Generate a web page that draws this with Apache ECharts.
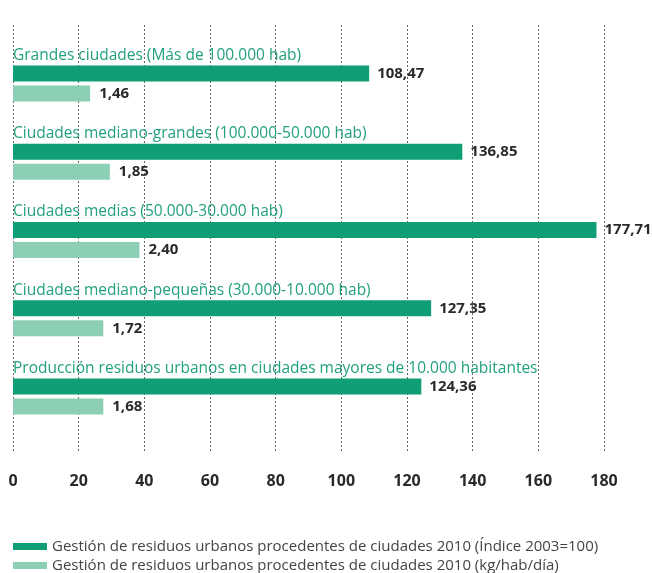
<!DOCTYPE html>
<html>
<head>
<meta charset="utf-8">
<script src="https://cdn.jsdelivr.net/npm/echarts@6/dist/echarts.min.js"></script>
<style>html,body{margin:0;padding:0;background:#fff;}#c{width:652px;height:573px;}</style>
</head>
<body>
<div id="c"></div>
<script>
const categories = [
  'Grandes ciudades (Más de 100.000 hab)',
  'Ciudades mediano-grandes (100.000-50.000 hab)',
  'Ciudades medias (50.000-30.000 hab)',
  'Ciudades mediano-pequeñas (30.000-10.000 hab)',
  'Producción residuos urbanos en ciudades mayores de 10.000 habitantes'
];
const indexValues = [108.47, 136.85, 177.71, 127.35, 124.36];
const kgValues = [1.46, 1.85, 2.40, 1.72, 1.68];
// bar lengths of the light bars (on the 0-180 axis)
const kgBarLengths = [23.5, 29.5, 38.5, 27.5, 27.5];
const xTicks = [0, 20, 40, 60, 80, 100, 120, 140, 160, 180];
const seriesNames = [
  'Gestión de residuos urbanos procedentes de ciudades 2010 (Índice 2003=100)',
  'Gestión de residuos urbanos procedentes de ciudades 2010 (kg/hab/día)'
];

const fmt = v => v.toFixed(2).replace('.', ',');
const FONT = 'Open Sans';

const chart = echarts.init(document.getElementById('c'));
chart.setOption({
  animation: false,
  textStyle: { fontFamily: FONT },
  grid: [
    { left: 13, right: 48, top: 44.4, bottom: 137.4 },
    { left: 13, right: 48, top: 25, bottom: 121 }
  ],
  xAxis: [
    { gridIndex: 0, type: 'value', min: 0, max: 180, interval: 20,
      axisLine: { show: false }, axisTick: { show: false }, axisLabel: { show: false }, splitLine: { show: false } },
    { gridIndex: 1, type: 'value', min: 0, max: 180, interval: 20,
      axisLine: { show: false }, axisTick: { show: false },
      axisLabel: { margin: 21, fontSize: 16, fontWeight: 'bold', color: '#2a2a2a', fontFamily: FONT,
        formatter: v => xTicks.includes(v) ? String(v) : '' },
      splitLine: { show: true, lineStyle: { color: '#666', type: [2, 2], width: 1 } } }
  ],
  yAxis: [
    { gridIndex: 0, type: 'category', data: categories, inverse: true,
      axisLine: { show: false }, axisTick: { show: false }, splitLine: { show: false },
      axisLabel: { inside: true, margin: 0, align: 'left', verticalAlign: 'bottom',
        padding: [0, 0, 20, 0], fontSize: 15.5, color: '#22a07f', fontFamily: FONT } },
    { gridIndex: 1, type: 'value', min: 0, max: 1, show: false }
  ],
  legend: [
    { left: 13, top: 539, padding: 0, itemWidth: 34, itemHeight: 7, itemGap: 5, icon: 'rect',
      textStyle: { fontSize: 15, color: '#444', fontFamily: FONT }, data: [seriesNames[0]] },
    { left: 13, top: 558, padding: 0, itemWidth: 34, itemHeight: 7, itemGap: 5, icon: 'rect',
      textStyle: { fontSize: 15, color: '#444', fontFamily: FONT }, data: [seriesNames[1]] }
  ],
  series: [
    { name: seriesNames[0], type: 'bar', xAxisIndex: 0, yAxisIndex: 0,
      data: indexValues, barWidth: 16, barGap: '25%',
      itemStyle: { color: '#0f9e75' },
      label: { show: true, position: 'right', distance: 8, formatter: p => fmt(p.value),
        fontSize: 15, fontWeight: 'bold', color: '#2a2a2a', fontFamily: FONT } },
    { name: seriesNames[1], type: 'bar', xAxisIndex: 0, yAxisIndex: 0,
      data: kgBarLengths, barWidth: 16, barGap: '25%',
      itemStyle: { color: '#8ccfb5' },
      label: { show: true, position: 'right', distance: 9, formatter: p => fmt(kgValues[p.dataIndex]),
        fontSize: 15, fontWeight: 'bold', color: '#2a2a2a', fontFamily: FONT } }
  ]
});
</script>
</body>
</html>
